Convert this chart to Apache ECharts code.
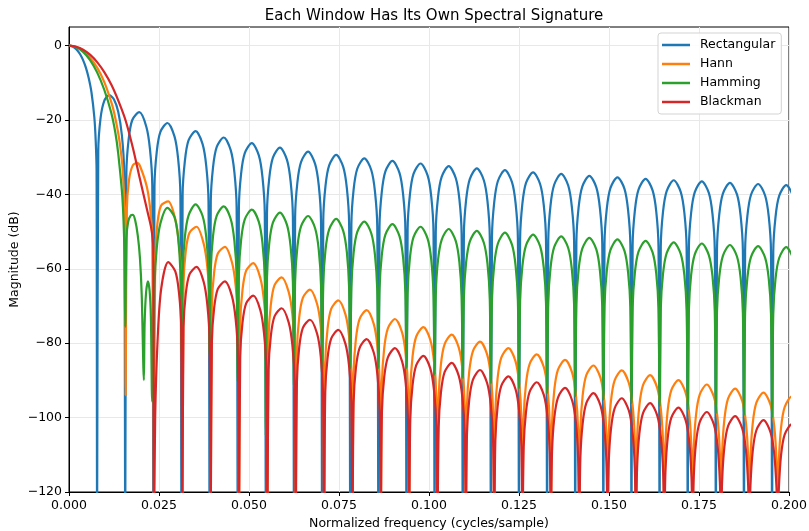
<!DOCTYPE html>
<html>
<head>
<meta charset="utf-8">
<title>Window spectra</title>
<script src="https://cdn.jsdelivr.net/npm/echarts@6/dist/echarts.min.js"></script>
<style>
  html, body { margin: 0; padding: 0; background: #ffffff; }
  #chart { width: 809px; height: 531px; }
</style>
</head>
<body>
<div id="chart"></div>
<script>
// Magnitude responses (dB) of four 128-point windows, normalized frequency in cycles/sample.

const seriesNames = ['Rectangular', 'Hann', 'Hamming', 'Blackman'];
const seriesColors = ['#1f77b4', '#ff7f0e', '#2ca02c', '#d62728'];
const xTickValues = [0, 0.025, 0.05, 0.075, 0.1, 0.125, 0.15, 0.175, 0.2];
const yTickValues = [-120, -100, -80, -60, -40, -20, 0];

// Frequency grid for lobes bounded by k/128 nulls (k = 2 .. 26)
const freqA = [
  0.01563, 0.01594, 0.01656, 0.01758, 0.01953, 0.02148, 0.0225, 0.02313,
  0.02344, 0.02375, 0.02438, 0.02539, 0.02734, 0.0293, 0.03031, 0.03094,
  0.03125, 0.03156, 0.03219, 0.0332, 0.03516, 0.03711, 0.03813, 0.03875,
  0.03906, 0.03938, 0.04, 0.04102, 0.04297, 0.04492, 0.04594, 0.04656,
  0.04688, 0.04719, 0.04781, 0.04883, 0.05078, 0.05273, 0.05375, 0.05438,
  0.05469, 0.055, 0.05563, 0.05664, 0.05859, 0.06055, 0.06156, 0.06219,
  0.0625, 0.06281, 0.06344, 0.06445, 0.06641, 0.06836, 0.06938, 0.07,
  0.07031, 0.07063, 0.07125, 0.07227, 0.07422, 0.07617, 0.07719, 0.07781,
  0.07813, 0.07844, 0.07906, 0.08008, 0.08203, 0.08398, 0.085, 0.08563,
  0.08594, 0.08625, 0.08688, 0.08789, 0.08984, 0.0918, 0.09281, 0.09344,
  0.09375, 0.09406, 0.09469, 0.0957, 0.09766, 0.09961, 0.10063, 0.10125,
  0.10156, 0.10188, 0.1025, 0.10352, 0.10547, 0.10742, 0.10844, 0.10906,
  0.10938, 0.10969, 0.11031, 0.11133, 0.11328, 0.11523, 0.11625, 0.11688,
  0.11719, 0.1175, 0.11813, 0.11914, 0.12109, 0.12305, 0.12406, 0.12469,
  0.125, 0.12531, 0.12594, 0.12695, 0.12891, 0.13086, 0.13188, 0.1325,
  0.13281, 0.13313, 0.13375, 0.13477, 0.13672, 0.13867, 0.13969, 0.14031,
  0.14063, 0.14094, 0.14156, 0.14258, 0.14453, 0.14648, 0.1475, 0.14813,
  0.14844, 0.14875, 0.14938, 0.15039, 0.15234, 0.1543, 0.15531, 0.15594,
  0.15625, 0.15656, 0.15719, 0.1582, 0.16016, 0.16211, 0.16313, 0.16375,
  0.16406, 0.16438, 0.165, 0.16602, 0.16797, 0.16992, 0.17094, 0.17156,
  0.17188, 0.17219, 0.17281, 0.17383, 0.17578, 0.17773, 0.17875, 0.17938,
  0.17969, 0.18, 0.18063, 0.18164, 0.18359, 0.18555, 0.18656, 0.18719,
  0.1875, 0.18781, 0.18844, 0.18945, 0.19141, 0.19336, 0.19438, 0.195,
  0.19531, 0.19563, 0.19625, 0.19727, 0.19922, 0.20117, 0.20219, 0.20281,
  0.20313
];

// Frequency grid for lobes bounded by k/127 nulls (k = 3 .. 26)
const freqB = [
  0.02362, 0.02394, 0.02457, 0.02559, 0.02756, 0.02953, 0.03055, 0.03118,
  0.0315, 0.03181, 0.03244, 0.03347, 0.03543, 0.0374, 0.03843, 0.03906,
  0.03937, 0.03969, 0.04031, 0.04134, 0.04331, 0.04528, 0.0463, 0.04693,
  0.04724, 0.04756, 0.04819, 0.04921, 0.05118, 0.05315, 0.05417, 0.0548,
  0.05512, 0.05543, 0.05606, 0.05709, 0.05906, 0.06102, 0.06205, 0.06268,
  0.06299, 0.06331, 0.06394, 0.06496, 0.06693, 0.0689, 0.06992, 0.07055,
  0.07087, 0.07118, 0.07181, 0.07283, 0.0748, 0.07677, 0.0778, 0.07843,
  0.07874, 0.07906, 0.07969, 0.08071, 0.08268, 0.08465, 0.08567, 0.0863,
  0.08661, 0.08693, 0.08756, 0.08858, 0.09055, 0.09252, 0.09354, 0.09417,
  0.09449, 0.0948, 0.09543, 0.09646, 0.09843, 0.10039, 0.10142, 0.10205,
  0.10236, 0.10268, 0.10331, 0.10433, 0.1063, 0.10827, 0.10929, 0.10992,
  0.11024, 0.11055, 0.11118, 0.11221, 0.11417, 0.11614, 0.11717, 0.1178,
  0.11811, 0.11843, 0.11906, 0.12008, 0.12205, 0.12402, 0.12504, 0.12567,
  0.12598, 0.1263, 0.12693, 0.12795, 0.12992, 0.13189, 0.13291, 0.13354,
  0.13386, 0.13417, 0.1348, 0.13583, 0.1378, 0.13976, 0.14079, 0.14142,
  0.14173, 0.14205, 0.14268, 0.1437, 0.14567, 0.14764, 0.14866, 0.14929,
  0.14961, 0.14992, 0.15055, 0.15157, 0.15354, 0.15551, 0.15654, 0.15717,
  0.15748, 0.1578, 0.15843, 0.15945, 0.16142, 0.16339, 0.16441, 0.16504,
  0.16535, 0.16567, 0.1663, 0.16732, 0.16929, 0.17126, 0.17228, 0.17291,
  0.17323, 0.17354, 0.17417, 0.1752, 0.17717, 0.17913, 0.18016, 0.18079,
  0.1811, 0.18142, 0.18205, 0.18307, 0.18504, 0.18701, 0.18803, 0.18866,
  0.18898, 0.18929, 0.18992, 0.19094, 0.19291, 0.19488, 0.19591, 0.19654,
  0.19685, 0.19717, 0.1978, 0.19882, 0.20079, 0.20276, 0.20378, 0.20441,
  0.20472
];

// Rectangular: main lobe and first sidelobe as [freq, dB]
const rectHead = [
  [0, 0], [0.00078, -0.1], [0.00156, -0.6], [0.00234, -1.3], [0.00313, -2.4],
  [0.00391, -3.9], [0.00469, -5.9], [0.00547, -8.7], [0.00625, -12.6],
  [0.00703, -19.2], [0.00742, -25.6], [0.00766, -33.7], [0.00781, -130],
  [0.00813, -28.3], [0.00875, -19.6], [0.00977, -14.9], [0.01117, -13.3],
  [0.0125, -14.5], [0.01367, -17.8], [0.01469, -24.1], [0.01531, -33.8]
];
// Rectangular: remaining sidelobes on freqA
const rectTail = [
  -130, -34.3, -25.3, -20.0, -17.9, -21.8, -27.9, -37.5,
  -130, -37.7, -28.5, -23.2, -20.8, -24.4, -30.4, -40.0,
  -130, -40.2, -31.0, -25.5, -23.0, -26.5, -32.4, -41.9,
  -130, -42.0, -32.8, -27.3, -24.7, -28.1, -34.0, -43.5,
  -130, -43.6, -34.4, -28.9, -26.2, -29.5, -35.4, -44.9,
  -130, -44.9, -35.6, -30.1, -27.4, -30.7, -36.5, -46.0,
  -130, -46.1, -36.8, -31.3, -28.5, -31.8, -37.6, -47.0,
  -130, -47.0, -37.7, -32.2, -29.4, -32.6, -38.4, -47.9,
  -130, -48.0, -38.7, -33.1, -30.3, -33.5, -39.3, -48.7,
  -130, -48.7, -39.4, -33.8, -31.0, -34.2, -40.0, -49.4,
  -130, -49.4, -40.1, -34.5, -31.7, -34.9, -40.6, -50.1,
  -130, -50.1, -40.8, -35.3, -32.4, -35.6, -41.3, -50.7,
  -130, -50.8, -41.5, -35.9, -33.0, -36.2, -41.9, -51.3,
  -130, -51.3, -42.0, -36.4, -33.5, -36.7, -42.4, -51.8,
  -130, -51.9, -42.5, -36.9, -34.1, -37.2, -42.9, -52.3,
  -130, -52.3, -43.0, -37.4, -34.5, -37.6, -43.4, -52.8,
  -130, -52.8, -43.5, -37.9, -35.0, -38.1, -43.9, -53.3,
  -130, -53.2, -43.9, -38.3, -35.4, -38.5, -44.3, -53.6,
  -130, -53.7, -44.3, -38.7, -35.8, -38.9, -44.6, -54.0,
  -130, -54.1, -44.7, -39.1, -36.2, -39.3, -45.0, -54.4,
  -130, -54.4, -45.0, -39.4, -36.5, -39.6, -45.3, -54.7,
  -130, -54.8, -45.4, -39.8, -36.9, -40.0, -45.7, -55.1,
  -130, -55.1, -45.8, -40.1, -37.2, -40.3, -46.0, -55.4,
  -130, -55.4, -46.1, -40.4, -37.5, -40.6, -46.3, -55.7,
  -130
];

// Hann: main lobe and first sidelobe as [freq, dB]
const hannHead = [
  [0, 0], [0.00197, -0.35], [0.00394, -1.4], [0.00591, -3.3], [0.00787, -6.0],
  [0.00984, -9.9], [0.01181, -15.4], [0.0126, -18.3], [0.01378, -24.1],
  [0.01457, -29.8], [0.01496, -34.1], [0.01551, -45.5], [0.01575, -94],
  [0.01606, -44.2], [0.01669, -36.0], [0.01772, -32.2], [0.0189, -31.5],
  [0.01969, -32.3], [0.02165, -38.1], [0.02268, -45.1], [0.02331, -55.2]
];
// Hann: remaining sidelobes on freqB
const hannTail = [
  -125, -56.5, -47.7, -43.0, -41.9, -46.7, -53.4, -63.3,
  -125, -64.1, -55.2, -50.3, -48.7, -53.2, -59.6, -69.4,
  -125, -69.9, -61.0, -55.9, -54.1, -58.3, -64.6, -74.3,
  -125, -74.7, -65.7, -60.5, -58.5, -62.5, -68.7, -78.4,
  -125, -78.7, -69.7, -64.4, -62.3, -66.2, -72.3, -81.9,
  -125, -82.2, -73.1, -67.8, -65.6, -69.4, -75.4, -85.0,
  -125, -85.3, -76.2, -70.8, -68.5, -72.2, -78.2, -87.8,
  -125, -88.0, -78.9, -73.5, -71.1, -74.8, -80.8, -90.3,
  -125, -90.5, -81.3, -76.0, -73.5, -77.1, -83.1, -92.6,
  -125, -92.8, -83.6, -78.2, -75.7, -79.2, -85.2, -94.7,
  -125, -94.9, -85.7, -80.3, -77.7, -81.2, -87.1, -96.7,
  -125, -96.8, -87.6, -82.1, -79.6, -83.0, -88.9, -98.5,
  -125, -98.6, -89.4, -83.9, -81.3, -84.8, -90.7, -100.1,
  -125, -100.3, -91.0, -85.6, -83.0, -86.4, -92.2, -101.7,
  -125, -101.9, -92.6, -87.1, -84.5, -87.9, -93.8, -103.2,
  -125, -103.3, -94.1, -88.6, -86.0, -89.3, -95.2, -104.6,
  -125, -104.8, -95.5, -90.0, -87.3, -90.7, -96.5, -106.0,
  -125, -106.1, -96.8, -91.3, -88.6, -92.0, -97.8, -107.3,
  -125, -107.4, -98.1, -92.6, -89.9, -93.2, -99.0, -108.5,
  -125, -108.6, -99.3, -93.8, -91.1, -94.4, -100.2, -109.6,
  -125, -109.7, -100.5, -94.9, -92.2, -95.5, -101.3, -110.7,
  -125, -110.8, -101.6, -96.0, -93.3, -96.6, -102.4, -111.8,
  -125, -111.9, -102.6, -97.1, -94.3, -97.6, -103.4, -112.8,
  -125
];

// Hamming: main lobe, first sidelobe and the small lobe before 3/128, as [freq, dB]
const hammingHead = [
  [0, 0], [0.00195, -0.4], [0.00391, -1.7], [0.00586, -3.9], [0.00781, -7.2],
  [0.00977, -11.8], [0.01172, -18.0], [0.01289, -23.5], [0.01367, -29.0],
  [0.01484, -41.0], [0.01539, -55.0], [0.01563, -75.6],
  [0.01594, -52.0], [0.01641, -47.5], [0.01719, -45.6], [0.01775, -45.5],
  [0.0184, -47.0], [0.0191, -51.0], [0.0197, -57.0], [0.0202, -67.0], [0.0208, -89.9],
  [0.021, -75.0], [0.0214, -66.5], [0.02193, -63.4], [0.0224, -66.0],
  [0.02275, -73.0], [0.0231, -95.7]
];
// Hamming: sidelobes on freqA from 3/128 onwards (first value sits at 0.02375)
const hammingTail = [
  -64.6, -54.4, -47.8, -43.6, -46.1, -51.6, -60.8,
  -82.2, -60.8, -51.4, -45.7, -42.7, -45.8, -51.5, -60.9,
  -83.1, -60.5, -51.3, -45.8, -43.2, -46.6, -52.5, -62.0,
  -90.3, -61.5, -52.2, -46.7, -44.1, -47.4, -53.2, -62.7,
  -104.7, -62.4, -53.1, -47.6, -44.9, -48.2, -54.0, -63.5,
  -92.1, -63.4, -54.1, -48.6, -45.8, -49.1, -54.9, -64.3,
  -88.9, -64.2, -54.9, -49.4, -46.6, -49.8, -55.6, -65.1,
  -86.7, -65.0, -55.7, -50.1, -47.3, -50.5, -56.3, -65.7,
  -86.7, -65.7, -56.4, -50.8, -48.0, -51.2, -57.0, -66.4,
  -86.7, -66.4, -57.1, -51.5, -48.7, -51.9, -57.6, -67.1,
  -88.5, -67.0, -57.7, -52.2, -49.3, -52.5, -58.2, -67.6,
  -89.4, -67.6, -58.3, -52.7, -49.8, -53.0, -58.7, -68.1,
  -90.8, -68.1, -58.8, -53.2, -50.3, -53.5, -59.2, -68.6,
  -92.1, -68.6, -59.3, -53.7, -50.8, -53.9, -59.7, -69.1,
  -93.4, -69.1, -59.8, -54.2, -51.3, -54.4, -60.2, -69.6,
  -94.3, -69.5, -60.2, -54.6, -51.7, -54.8, -60.6, -70.0,
  -95.2, -69.9, -60.6, -55.0, -52.1, -55.2, -61.0, -70.3,
  -96.1, -70.4, -61.0, -55.4, -52.5, -55.6, -61.3, -70.7,
  -97.0, -70.7, -61.4, -55.8, -52.9, -56.0, -61.7, -71.1,
  -97.9, -71.1, -61.7, -56.1, -53.2, -56.3, -62.0, -71.4,
  -98.8, -71.4, -62.1, -56.5, -53.6, -56.7, -62.4, -71.8,
  -99.3, -71.8, -62.4, -56.8, -53.9, -57.0, -62.7, -72.1,
  -100.0, -72.1, -62.7, -57.1, -54.2, -57.3, -63.0, -72.4,
  -100.5
];

// Blackman: main lobe as [freq, dB]
const blackmanHead = [
  [0, 0], [0.00197, -0.3], [0.00394, -1.1], [0.00591, -2.5], [0.00787, -4.5],
  [0.00984, -7.2], [0.01181, -10.6], [0.01378, -15.0], [0.01575, -20.2],
  [0.01772, -27.4], [0.01969, -35.8], [0.02165, -44.0], [0.02283, -49.0],
  [0.02339, -54.0]
];
// Blackman: sidelobes on freqB
const blackmanTail = [
  -130, -100.0, -80.0, -65.5, -58.2, -60.7, -66.4, -75.9,
  -130, -75.7, -66.7, -61.5, -59.5, -63.5, -69.7, -79.4,
  -130, -79.6, -70.6, -65.4, -63.4, -67.4, -73.6, -83.3,
  -130, -83.6, -74.5, -69.3, -67.2, -71.1, -77.3, -86.9,
  -130, -87.2, -78.1, -72.8, -70.6, -74.4, -80.5, -90.1,
  -130, -90.4, -81.2, -75.9, -73.7, -77.4, -83.4, -93.0,
  -130, -93.2, -84.1, -78.8, -76.4, -80.1, -86.1, -95.7,
  -130, -95.8, -86.7, -81.3, -78.9, -82.5, -88.5, -98.1,
  -130, -98.3, -89.1, -83.8, -81.3, -84.9, -90.8, -100.4,
  -130, -100.5, -91.3, -85.9, -83.4, -86.9, -92.9, -102.4,
  -130, -102.5, -93.3, -87.8, -85.3, -88.8, -94.7, -104.2,
  -130, -104.4, -95.2, -89.8, -87.2, -90.7, -96.6, -106.1,
  -130, -106.2, -97.0, -91.5, -88.9, -92.3, -98.2, -107.7,
  -130, -107.8, -98.6, -93.1, -90.5, -93.9, -99.8, -109.3,
  -130, -109.4, -100.1, -94.6, -92.0, -95.4, -101.2, -110.7,
  -130, -110.8, -101.6, -96.1, -93.4, -96.8, -102.6, -112.1,
  -130, -112.2, -103.0, -97.5, -94.8, -98.1, -104.0, -113.5,
  -130, -113.6, -104.3, -98.8, -96.1, -99.4, -105.3, -114.7,
  -130, -114.8, -105.5, -100.0, -97.3, -100.6, -106.4, -115.9,
  -130, -116.0, -106.7, -101.2, -98.5, -101.8, -107.6, -117.1,
  -130, -117.1, -107.9, -102.3, -99.6, -102.9, -108.7, -118.2,
  -130, -118.3, -109.0, -103.4, -100.7, -104.0, -109.8, -119.2,
  -130, -119.3, -110.0, -104.5, -101.8, -105.0, -110.8, -120.3,
  -130
];

function pairUp(xs, ys) {
  return ys.map(function (y, i) { return [xs[i], y]; });
}

const rectData = rectHead.concat(pairUp(freqA, rectTail));
const hannData = hannHead.concat(pairUp(freqB, hannTail));
const hammingData = hammingHead.concat(pairUp(freqA.slice(9), hammingTail));
const blackmanData = blackmanHead.concat(pairUp(freqB, blackmanTail));
const allData = [rectData, hannData, hammingData, blackmanData];

const FONT = 'DejaVu Sans';
const chart = echarts.init(document.getElementById('chart'), null, { renderer: 'canvas' });

chart.setOption({
  animation: false,
  backgroundColor: '#ffffff',
  textStyle: { fontFamily: FONT },
  title: {
    text: 'Each Window Has Its Own Spectral Signature',
    left: 429,
    top: 4,
    textAlign: 'center',
    textStyle: { fontFamily: FONT, fontSize: 15, fontWeight: 'normal', color: '#000000' }
  },
  grid: {
    left: 69, right: 20, top: 27, bottom: 39,
    outerBoundsMode: 'none',
    containLabel: false,
    show: true, borderColor: '#000000', borderWidth: 1,
    backgroundColor: 'transparent'
  },
  legend: {
    orient: 'vertical',
    left: 658,
    top: 33,
    padding: [5, 6, 5, 4],
    icon: 'rect',
    itemWidth: 28,
    itemHeight: 2.5,
    itemGap: 5,
    backgroundColor: 'rgba(255,255,255,0.85)',
    borderColor: '#d3d3d3',
    borderWidth: 1,
    borderRadius: 3,
    textStyle: { fontFamily: FONT, fontSize: 12.5, color: '#000000', lineHeight: 14, padding: [0, 0, 0, 5] },
    data: seriesNames
  },
  xAxis: {
    type: 'value',
    min: 0,
    max: 0.2,
    interval: 0.025,
    name: 'Normalized frequency (cycles/sample)',
    nameLocation: 'middle',
    nameGap: 25,
    nameMoveOverlap: false,
    nameTextStyle: { fontFamily: FONT, fontSize: 12.5, color: '#000000' },
    axisLine: { show: true, onZero: false, lineStyle: { color: '#000000', width: 1 } },
    axisTick: { show: true, length: 4, lineStyle: { color: '#000000', width: 1 } },
    axisLabel: {
      fontFamily: FONT, fontSize: 12.5, color: '#000000', margin: 7,
      formatter: function (v) { return v.toFixed(3); }
    },
    splitLine: { show: true, lineStyle: { color: '#e8e8e8', width: 1 } }
  },
  yAxis: {
    type: 'value',
    min: -120,
    max: 5,
    interval: 20,
    name: 'Magnitude (dB)',
    nameLocation: 'middle',
    nameGap: 48,
    nameRotate: 90,
    nameMoveOverlap: false,
    nameTextStyle: { fontFamily: FONT, fontSize: 12.5, color: '#000000' },
    axisLine: { show: true, onZero: false, lineStyle: { color: '#000000', width: 1 } },
    axisTick: { show: true, length: 4, lineStyle: { color: '#000000', width: 1 }, customValues: yTickValues },
    axisLabel: {
      fontFamily: FONT, fontSize: 12.5, color: '#000000', margin: 7,
      customValues: yTickValues,
      formatter: function (v) { return v < 0 ? '\u2212' + Math.abs(v) : String(v); }
    },
    splitLine: { show: true, lineStyle: { color: '#e8e8e8', width: 1 } }
  },
  series: seriesNames.map(function (name, i) {
    return {
      name: name,
      type: 'line',
      data: allData[i],
      symbol: 'none',
      showSymbol: false,
      smooth: 0.3,
      clip: true,
      color: seriesColors[i],
      lineStyle: { color: seriesColors[i], width: 2.2 },
      itemStyle: { color: seriesColors[i] },
      emphasis: { disabled: true },
      z: 2 + i
    };
  })
});
</script>
</body>
</html>
